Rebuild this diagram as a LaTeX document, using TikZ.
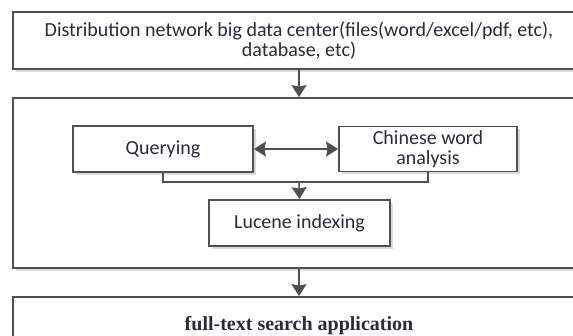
\documentclass[tikz,border=0pt]{standalone}
\usepackage{fontspec}
\setmainfont{Carlito}
\newfontfamily\serifapp{Liberation Serif}
\usetikzlibrary{arrows.meta,shadows}
\definecolor{linegray}{HTML}{505050}
\definecolor{txt}{HTML}{2A2A3C}
\tikzset{
  boxstyle/.style={draw=linegray, line width=1.8pt, fill=white, align=center, text=txt,
    font=\fontsize{20}{19.5}\selectfont, inner sep=0pt,
    drop shadow={shadow xshift=2.5pt, shadow yshift=-2.5pt, fill=black!14, opacity=1}},
  conn/.style={draw=linegray, line width=1.5pt},
  arr/.style={conn, -{Stealth[length=12pt,width=15pt,inset=1.5pt]}},
  darr/.style={conn, {Stealth[length=12pt,width=15pt,inset=1.5pt]}-{Stealth[length=12pt,width=15pt,inset=1.5pt]}}
}
\begin{document}
\begin{tikzpicture}[x=1pt,y=-1pt]
\useasboundingbox (0,0) rectangle (573,335);
\clip (0,0) rectangle (573,335);
\fill[white] (0,0) rectangle (573,335);
\node[boxstyle, minimum width=572pt, minimum height=57pt] (top) at (299,40.5)
  {Distribution network big data center(files(word/excel/pdf, etc),\\database, etc)};
\node[boxstyle, minimum width=572pt, minimum height=170pt] (mid) at (299,183) {};
\node[boxstyle, minimum width=180pt, minimum height=46pt] (query) at (163,149) {Querying};
\node[boxstyle, minimum width=178pt, minimum height=45pt] (chin) at (428,149) {Chinese word\\analysis};
\node[boxstyle, minimum width=181pt, minimum height=46pt] (luc) at (299.5,223) {Lucene indexing};
\node[boxstyle, minimum width=572pt, minimum height=58pt, font=\serifapp\bfseries\fontsize{20}{22}\selectfont] (app) at (299,326) {full-text search application};
\coordinate (join) at (299,182);
\draw[arr] (top.south) -- (mid.north);
\draw[darr] (query.east) -- (chin.west);
\draw[conn] (query.south) |- (join) -| (chin.south);
\draw[arr] (join) -- (luc.north);
\draw[arr] (mid.south) -- (app.north);
\end{tikzpicture}
\end{document}
